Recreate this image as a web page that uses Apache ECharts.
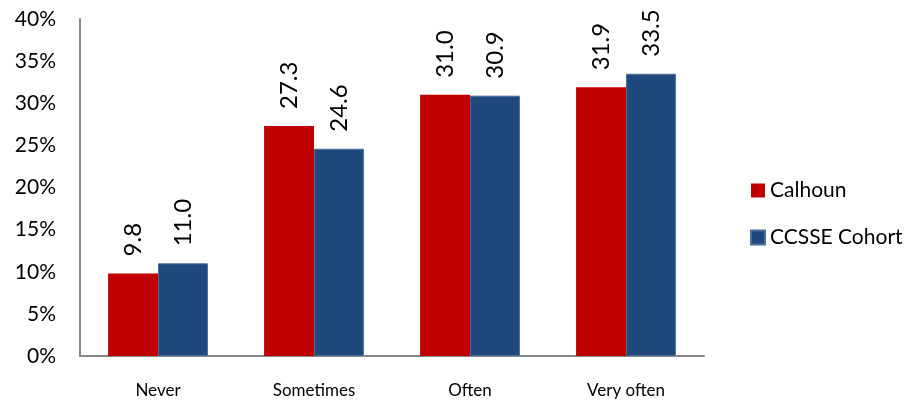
<!DOCTYPE html>
<html><head><meta charset="utf-8">
<script src="https://cdn.jsdelivr.net/npm/echarts@6/dist/echarts.min.js"></script>
<style>html,body{margin:0;padding:0;background:#fff}#c{width:916px;height:408px}</style>
</head><body><div id="c"></div>
<script>
const categories = ['Never', 'Sometimes', 'Often', 'Very often'];
const calhoun = [9.8, 27.3, 31.0, 31.9];
const cohort = [11.0, 24.6, 30.9, 33.5];
const seriesNames = ['Calhoun', 'CCSSE Cohort'];
const FONT = 'Lato, "Open Sans", sans-serif';
const chart = echarts.init(document.getElementById('c'));
const lbl = {
  show: true, position: 'top', rotate: 90, align: 'left', verticalAlign: 'middle',
  distance: 17, fontSize: 24, fontFamily: FONT, color: '#000',
  formatter: p => p.value.toFixed(1)
};
chart.setOption({
  animation: false,
  grid: { left: 80, right: 212, top: 19, bottom: 52 },
  legend: {
    orient: 'vertical', left: 745, top: 175, itemGap: 26,
    itemWidth: 14, itemHeight: 14, icon: 'rect',
    textStyle: { fontSize: 21, fontFamily: FONT, color: '#000' },
    data: seriesNames
  },
  xAxis: {
    type: 'category', data: categories,
    axisLine: { lineStyle: { color: '#868686', width: 2 } },
    axisTick: { show: false },
    axisLabel: { fontSize: 17, fontFamily: FONT, color: '#000', margin: 26 }
  },
  yAxis: {
    type: 'value', min: 0, max: 40, interval: 5,
    axisLine: { show: true, lineStyle: { color: '#868686', width: 2 } },
    axisTick: { show: false },
    splitLine: { show: false },
    axisLabel: { fontSize: 21, fontFamily: FONT, color: '#000', margin: 24, formatter: v => v + '%' }
  },
  series: [
    { name: seriesNames[0], type: 'bar', data: calhoun, barGap: '0%', barCategoryGap: '36%',
      itemStyle: { color: '#C00000' }, label: lbl },
    { name: seriesNames[1], type: 'bar', data: cohort,
      itemStyle: { color: '#1F497D', borderColor: '#4A6E9A', borderWidth: 1 }, label: lbl }
  ]
});
</script></body></html>
